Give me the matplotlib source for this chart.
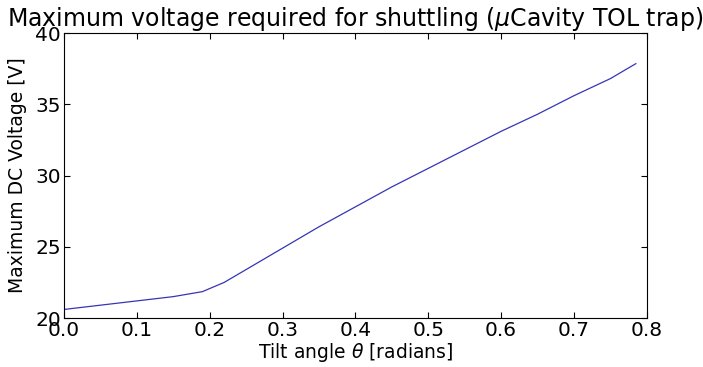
import matplotlib
matplotlib.use("Agg")
import matplotlib.pyplot as plt

# Tilt angle (radians) and the maximum DC electrode voltage needed for shuttling
tilt_angle = [0.0, 0.05, 0.10, 0.15, 0.19, 0.22, 0.25, 0.30, 0.35, 0.40,
              0.45, 0.50, 0.55, 0.60, 0.65, 0.70, 0.75, 0.785]
max_voltage = [20.6, 20.9, 21.2, 21.5, 21.85, 22.5, 23.4, 24.9, 26.4, 27.8,
               29.2, 30.5, 31.8, 33.1, 34.3, 35.6, 36.8, 37.85]

x_ticks = [0.0, 0.1, 0.2, 0.3, 0.4, 0.5, 0.6, 0.7, 0.8]
y_ticks = [20, 25, 30, 35, 40]

plt.rcParams.update({
    "font.family": ["DejaVu Sans"],
    "xtick.direction": "in",
    "ytick.direction": "in",
    "xtick.top": True,
    "ytick.right": True,
    "xtick.major.size": 4,
    "ytick.major.size": 4,
    "mathtext.fontset": "dejavusans",
})

fig = plt.figure(figsize=(7.03, 3.67), dpi=100)
ax = fig.add_axes([0.091, 0.1335, 0.829, 0.7765])
ax.plot(tilt_angle, max_voltage, color="#3535b8", linewidth=0.9)

ax.set_xlim(0.0, 0.8)
ax.set_ylim(20, 40)
ax.set_xticks(x_ticks)
ax.set_yticks(y_ticks)
ax.tick_params(labelsize=14.5, pad=2)
ax.set_xlabel(r"Tilt angle $\theta$ [radians]", fontsize=13.5, labelpad=1)
ax.set_ylabel("Maximum DC Voltage [V]", fontsize=13.5, labelpad=6)
ax.set_title(r"Maximum voltage required for shuttling ($\mu$Cavity TOL trap)",
             fontsize=17, pad=1)

fig.savefig("out.png", dpi=100, facecolor="white")
